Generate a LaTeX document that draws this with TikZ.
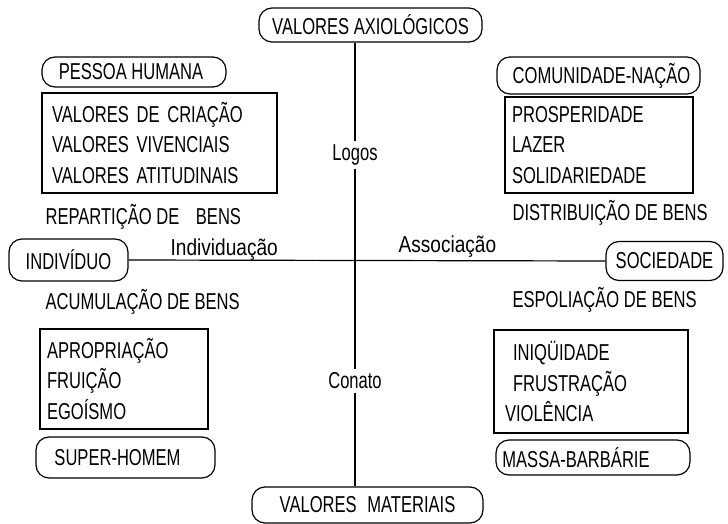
\documentclass[tikz,border=0pt]{standalone}
\usepackage{fontspec}
\setmainfont{Liberation Sans}[FakeStretch=0.72]
\newfontfamily\widerfont{Liberation Sans}[FakeStretch=0.83]
\begin{document}
\begin{tikzpicture}[x=1pt,y=-1pt,line width=1.2pt,
  every node/.style={font=\fontsize{23}{30.5}\selectfont, inner sep=0pt},
  rbox/.style={draw, rounded corners=13pt},
  sbox/.style={draw, align=left, anchor=center},
  lbl/.style={anchor=west},
  lower/.style={anchor=west, font=\widerfont\fontsize{23}{30.5}\selectfont},
  axis/.style={fill=white, inner sep=3pt}]
\useasboundingbox (0,0) rectangle (728,524);
% rounded boxes
\node[rbox, minimum width=223pt, minimum height=34pt] (axio) at (370.5,25) {VALORES AXIOLÓGICOS};
\node[rbox, minimum width=184pt, minimum height=30pt] (pessoa) at (134,72) {PESSOA HUMANA\hspace*{6pt}};
\node[rbox, minimum width=203pt, minimum height=37pt] (comun) at (598.5,75.5) {\hspace*{6pt}COMUNIDADE-NAÇÃO};
\node[rbox, minimum width=119pt, minimum height=42pt] (indiv) at (68.5,260) {INDIVÍDUO};
\node[rbox, minimum width=117pt, minimum height=39pt] (socie) at (664.5,261) {SOCIEDADE};
\node[rbox, minimum width=179pt, minimum height=41pt] (super) at (125.5,457.5) {SUPER-HOMEM\hspace*{16pt}};
\node[rbox, minimum width=194pt, minimum height=35pt] (massa) at (593,457.5) {MASSA-BARBÁRIE\hspace*{34pt}};
\node[rbox, minimum width=231pt, minimum height=36pt] (mater) at (367.5,505) {VALORES\hspace{6pt} MATERIAIS};
% rectangular boxes
\node[sbox, minimum width=235pt, minimum height=100pt, inner xsep=10pt, text width=215pt] (b1) at (159.5,143)
  {VALORES DE CRIAÇÃO\\VALORES VIVENCIAIS\\VALORES ATITUDINAIS};
\node[sbox, minimum width=188pt, minimum height=96pt, inner xsep=7pt, text width=174pt] (b2) at (599,145)
  {PROSPERIDADE\\LAZER\\SOLIDARIEDADE};
\node[sbox, minimum width=168pt, minimum height=100pt, inner xsep=7pt, text width=154pt] (b3) at (124,379)
  {APROPRIAÇÃO\\FRUIÇÃO\\EGOÍSMO};
\node[sbox, minimum width=194pt, minimum height=103pt, inner xsep=11pt, text width=172pt] (b4) at (591,381.5)
  {\hspace*{8pt}INIQÜIDADE\\\hspace*{8pt}FRUSTRAÇÃO\\VIOLÊNCIA};
% free labels
\node[lbl] (repart) at (45,217) {REPARTIÇÃO DE\hspace{12pt} BENS};
\node[lbl] (distr) at (512,213) {DISTRIBUIÇÃO DE BENS};
\node[lbl] (acum) at (45,302) {ACUMULAÇÃO DE BENS};
\node[lbl] (espol) at (512,300) {ESPOLIAÇÃO DE BENS};
\node[lower] (individ) at (170,250) {Individuação};
\node[lower] (assoc) at (398,247) {Associação};
% axis labels
\node[axis] (logos) at (355,155) {Logos};
\node[axis] (conato) at (355,381) {Conato};
% axes
\draw (axio.south -| logos) -- (logos.north);
\draw (logos.south) -- (conato.north);
\draw (conato.south) -- (mater.north -| conato);
\draw (indiv.east) -- (socie.west);
\end{tikzpicture}
\end{document}
